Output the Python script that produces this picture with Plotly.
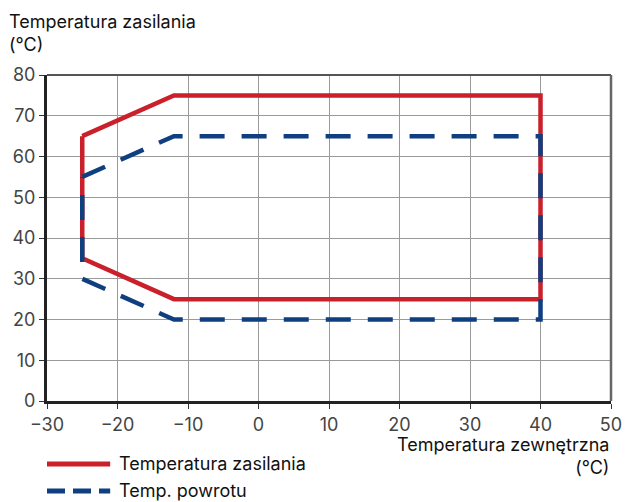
import plotly.graph_objects as go

# Operating envelope: supply temperature vs outdoor temperature
supply_x = [-25, -12, 40, 40, -12, -25, -25]
supply_y = [65, 75, 75, 25, 25, 35, 65]

return_x = [-25, -12, 40, 40, -12, -25, -25]
return_y = [55, 65, 65, 20, 20, 30, 55]

x_ticks = [-30, -20, -10, 0, 10, 20, 30, 40, 50]
y_ticks = [0, 10, 20, 30, 40, 50, 60, 70, 80]

RED = "#c9202b"
BLUE = "#0f3f80"
FONT = "Inter"

fig = go.Figure()
fig.add_trace(go.Scatter(x=supply_x, y=supply_y, mode="lines",
                         line=dict(color=RED, width=4.5),
                         name="Temperatura zasilania", showlegend=False))
fig.add_trace(go.Scatter(x=return_x, y=return_y, mode="lines",
                         line=dict(color=BLUE, width=4.5, dash="25px,17px"),
                         name="Temp. powrotu", showlegend=False))

axis_common = dict(showgrid=True, gridcolor="#9a9a9a", gridwidth=1.3,
                   zeroline=False, showline=True, linecolor="#222222", linewidth=3,
                   ticks="outside", ticklen=5, tickcolor="#333333", tickwidth=1,
                   automargin=False,
                   tickfont=dict(family=FONT, size=18, color="#444444"))

fig.update_xaxes(range=[-30, 50], tickvals=x_ticks, **axis_common)
fig.update_yaxes(range=[0, 80], tickvals=y_ticks, **axis_common)

# top and right frame of the plot area
fig.add_shape(type="line", xref="paper", yref="paper", x0=0, x1=1, y0=1, y1=1,
              line=dict(color="#555555", width=2))
fig.add_shape(type="line", xref="paper", yref="paper", x0=1, x1=1, y0=0, y1=1,
              line=dict(color="#666666", width=2.5))

# legend drawn by hand below the plot
fig.add_shape(type="line", xref="paper", yref="paper", x0=-0.0, x1=0.112,
              y0=-0.193, y1=-0.193, line=dict(color=RED, width=5))
fig.add_shape(type="line", xref="paper", yref="paper", x0=-0.0, x1=0.112,
              y0=-0.276, y1=-0.276, line=dict(color=BLUE, width=5, dash="18px,8px"))

annotations = [
    dict(text="Temperatura zasilania", x=0.124, y=-0.193, xanchor="left", yanchor="middle"),
    dict(text="Temp. powrotu", x=0.124, y=-0.276, xanchor="left", yanchor="middle"),
    dict(text="Temperatura zasilania<br>(°C)", x=-0.071, y=1.055, xanchor="left",
         yanchor="bottom", align="left"),
    dict(text="Temperatura zewnętrzna<br>(°C)", x=1.0, y=-0.095, xanchor="right",
         yanchor="top", align="right"),
]
for a in annotations:
    fig.add_annotation(xref="paper", yref="paper", showarrow=False,
                       font=dict(family=FONT, size=18, color="#111111"), **a)

fig.update_layout(width=625, height=502,
                  margin=dict(l=47, r=14, t=75, b=101),
                  paper_bgcolor="white", plot_bgcolor="white",
                  showlegend=False)

fig.write_html("out.html")
